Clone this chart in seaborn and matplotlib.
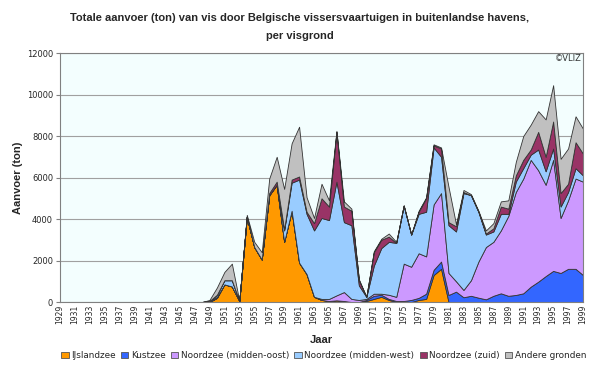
import numpy as np
import pandas as pd
import matplotlib
matplotlib.use("Agg")
import matplotlib.pyplot as plt
import seaborn as sns
from matplotlib.patches import Patch

years = list(range(1929, 2000))
zeros = [0] * 20  # 1929-1948

ijslandzee = zeros + [0, 200, 850, 750, 50, 4100, 2650, 2050, 5150, 5650,
                      2900, 4400, 1900, 1350, 250, 100, 50, 80, 50, 0,
                      0, 50, 150, 250, 100, 0, 0, 0, 100, 150,
                      1300, 1600, 0, 0, 0, 0, 0, 0, 0, 0,
                      0, 0, 0, 0, 0, 0, 0, 0, 0, 0, 0]
kustzee = zeros + [0, 0, 0, 0, 0, 0, 0, 0, 0, 0,
                   0, 0, 0, 0, 0, 0, 0, 0, 0, 0,
                   0, 50, 150, 100, 50, 50, 50, 100, 100, 250,
                   250, 350, 340, 500, 230, 300, 210, 130, 300, 420,
                   300, 340, 420, 740, 980, 1250, 1500, 1400, 1600, 1600, 1300]
nz_oost = zeros + [50, 50, 0, 0, 0, 0, 0, 0, 0, 0,
                   0, 0, 0, 0, 0, 50, 100, 240, 430, 150,
                   100, 50, 100, 50, 200, 200, 1800, 1600, 2150, 1800,
                   3150, 3300, 1060, 500, 350, 750, 1740, 2520, 2600, 3030,
                   3850, 4960, 5530, 6110, 5370, 4400, 5350, 2650, 3300, 4350, 4500]
nz_west = zeros + [0, 100, 200, 300, 0, 0, 0, 0, 0, 0,
                   550, 1350, 4000, 2900, 3200, 3900, 3800, 5480, 3370, 3550,
                   700, 100, 1350, 2200, 2550, 2600, 2800, 1550, 1900, 2150,
                   2750, 1750, 2300, 2400, 4670, 4100, 2400, 600, 500, 800,
                   100, 500, 500, 250, 1000, 650, 550, 550, 400, 500, 300]
nz_zuid = zeros + [0, 0, 0, 0, 0, 0, 0, 0, 100, 150,
                   50, 150, 150, 100, 350, 950, 650, 2400, 750, 700,
                   250, 0, 650, 400, 250, 0, 0, 0, 100, 650,
                   100, 400, 150, 250, 50, 0, 0, 50, 150, 350,
                   250, 300, 400, 250, 850, 700, 1300, 650, 400, 1250, 1050]
andere = zeros + [50, 350, 400, 800, 0, 100, 250, 350, 700, 1200,
                  1950, 1750, 2400, 700, 250, 700, 300, 50, 250, 100,
                  50, 0, 50, 50, 150, 50, 0, 0, 50, 50,
                  50, 50, 1700, 100, 100, 50, 50, 150, 250, 250,
                  400, 650, 1150, 1200, 1000, 1800, 1750, 1650, 1700, 1250, 1200]

labels = ["IJslandzee", "Kustzee", "Noordzee (midden-oost)",
          "Noordzee (midden-west)", "Noordzee (zuid)", "Andere gronden"]
colors = ["#FF9900", "#3366FF", "#CC99FF", "#99CCFF", "#993366", "#C0C0C0"]

df = pd.DataFrame({"Jaar": years, labels[0]: ijslandzee, labels[1]: kustzee,
                   labels[2]: nz_oost, labels[3]: nz_west,
                   labels[4]: nz_zuid, labels[5]: andere})

sns.set_style("white")
plt.rcParams["font.family"] = ["DejaVu Sans"]
narrow = ["Liberation Sans Narrow", "Liberation Sans"]

fig = plt.figure(figsize=(6, 3.68), dpi=100)
ax = fig.add_axes([0.1, 0.1793, 0.8717, 0.6766])
ax.set_facecolor("#F3FEFE")

ax.stackplot(df["Jaar"], [df[l] for l in labels], colors=colors,
             edgecolor="#333333", linewidth=0.6)

ax.set_xlim(1929, 1999)
ax.set_ylim(0, 12000)
ax.set_yticks(range(0, 12001, 2000))
ax.yaxis.grid(True, color="#A0A0A0", linewidth=0.8)
ax.set_axisbelow(True)
ax.set_xticks(range(1929, 2000, 2))
ax.set_xticks(range(1929, 2000), minor=True)
ax.tick_params(axis="x", which="both", direction="in", length=3, color="#808080",
               labelsize=5.5, rotation=90, pad=2)
ax.tick_params(axis="y", direction="out", length=3, color="#808080",
               labelsize=6, pad=2, left=True)
for s in ax.spines.values():
    s.set_color("#808080")
    s.set_linewidth(0.8)

ax.set_xlabel("Jaar", fontsize=8, fontweight="bold", labelpad=8, family=narrow)
ax.set_ylabel("Aanvoer (ton)", fontsize=8, fontweight="bold", labelpad=3, family=narrow)
fig.suptitle("Totale aanvoer (ton) van vis door Belgische vissersvaartuigen in buitenlandse havens,\nper visgrond",
             fontsize=8, fontweight="bold", y=0.965, family=narrow, linespacing=2.0)
ax.text(0.997, 0.995, "©VLIZ", transform=ax.transAxes, ha="right", va="top",
        fontsize=6, color="#333333")

handles = [Patch(facecolor=c, edgecolor="#555555", linewidth=0.6) for c in colors]
fig.legend(handles, labels, loc="lower center", ncol=6, frameon=False,
           fontsize=6.4, bbox_to_anchor=(0.54, 0.0), handlelength=0.8,
           handleheight=0.8, handletextpad=0.3, columnspacing=0.6)

fig.savefig("out.png", dpi=100)
